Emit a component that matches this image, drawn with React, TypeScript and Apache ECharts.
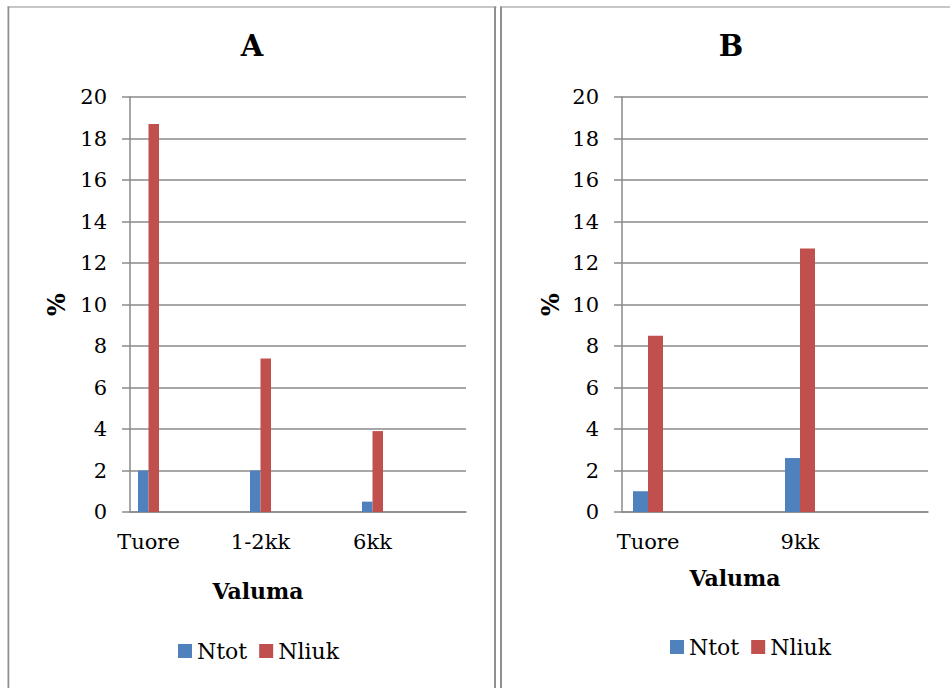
import React, { useEffect, useRef } from "react";
import * as echarts from "echarts";

// Panel A: nitrogen shares by storage time
const categoriesA = ["Tuore", "1-2kk", "6kk"];
const ntotA = [2.0, 2.0, 0.5];
const nliukA = [18.7, 7.4, 3.9];

// Panel B
const categoriesB = ["Tuore", "9kk"];
const ntotB = [1.0, 2.6];
const nliukB = [8.5, 12.7];

const seriesNames = ["Ntot", "Nliuk"];
const yMin = 0;
const yMax = 20;
const yStep = 2;

const FONT = "DejaVu Serif";
const GRAY = "#8a8a8a";
const BORDER = "#909090";
const BLUE = "#4F81BD";
const RED = "#C0504D";

function frameAxes(gridIndex: number, cats: string[], nameGap: number) {
  const x = {
    type: "category",
    gridIndex,
    data: cats,
    axisLine: { show: true, lineStyle: { color: GRAY, width: 1.5 } },
    axisTick: { show: false },
    axisLabel: { show: false },
    splitLine: { show: false },
  };
  const y = {
    type: "value",
    gridIndex,
    min: yMin,
    max: yMax,
    interval: yStep,
    name: "%",
    nameLocation: "middle",
    nameRotate: 90,
    nameGap,
    nameTextStyle: { fontFamily: FONT, fontSize: 24, fontWeight: "bold", color: "#000" },
    axisLine: { show: true, lineStyle: { color: GRAY, width: 1.5 } },
    axisTick: { show: true, length: 8, lineStyle: { color: GRAY, width: 1.5 } },
    axisLabel: { fontFamily: FONT, fontSize: 21, color: "#000", margin: 23 },
    splitLine: { show: true, lineStyle: { color: GRAY, width: 1.5 } },
  };
  return { x, y };
}

function barAxes(gridIndex: number, cats: string[]) {
  const x = {
    type: "category",
    gridIndex,
    data: cats,
    axisLine: { show: false },
    axisTick: { show: false },
    axisLabel: { fontFamily: FONT, fontSize: 21, color: "#000", margin: 19 },
    splitLine: { show: false },
  };
  const y = {
    type: "value",
    gridIndex,
    min: yMin,
    max: yMax,
    interval: yStep,
    show: false,
    splitLine: { show: false },
  };
  return { x, y };
}

function textEl(text: string, x: number, y: number, size: number) {
  return {
    type: "text",
    style: {
      text,
      x,
      y,
      textAlign: "center",
      textVerticalAlign: "middle",
      fontFamily: FONT,
      fontSize: size,
      fontWeight: "bold",
      fill: "#000",
    },
  };
}

function lineRect(x: number, y: number, w: number, h: number) {
  return { type: "rect", shape: { x, y, width: w, height: h }, style: { fill: BORDER } };
}

export default function App() {
  const ref = useRef<HTMLDivElement>(null);

  useEffect(() => {
    if (!ref.current) return;
    const chart = echarts.init(ref.current, undefined, { renderer: "svg" });

    const fA = frameAxes(0, categoriesA, 62);
    const bA = barAxes(1, categoriesA);
    const fB = frameAxes(2, categoriesB, 60);
    const bB = barAxes(3, categoriesB);

    const legendBase = {
      data: seriesNames,
      orient: "horizontal",
      icon: "rect",
      itemWidth: 14,
      itemHeight: 14,
      itemGap: 12,
      textStyle: { fontFamily: FONT, fontSize: 22, color: "#000" },
    };

    chart.setOption({
      animation: false,
      backgroundColor: "#fff",
      textStyle: { fontFamily: FONT },
      grid: [
        { left: 130, top: 97, width: 336, height: 415 },
        { left: 92.5, top: 97, width: 336, height: 415 },
        { left: 622, top: 97, width: 306, height: 415 },
        { left: 572, top: 97, width: 304, height: 415 },
      ],
      xAxis: [fA.x, bA.x, fB.x, bB.x],
      yAxis: [fA.y, bA.y, fB.y, bB.y],
      legend: [
        { ...legendBase, left: 173, top: 635 },
        { ...legendBase, left: 665, top: 631 },
      ],
      series: [
        { name: seriesNames[0], type: "bar", xAxisIndex: 1, yAxisIndex: 1, data: ntotA, barWidth: 10.5, barGap: "0%", itemStyle: { color: BLUE } },
        { name: seriesNames[1], type: "bar", xAxisIndex: 1, yAxisIndex: 1, data: nliukA, barWidth: 10.5, barGap: "0%", itemStyle: { color: RED } },
        { name: seriesNames[0], type: "bar", xAxisIndex: 3, yAxisIndex: 3, data: ntotB, barWidth: 15, barGap: "0%", itemStyle: { color: BLUE } },
        { name: seriesNames[1], type: "bar", xAxisIndex: 3, yAxisIndex: 3, data: nliukB, barWidth: 15, barGap: "0%", itemStyle: { color: RED } },
      ],
      graphic: [
        // table cell borders
        lineRect(7.5, 6.5, 489, 1),
        lineRect(7.5, 6.5, 1.8, 682),
        lineRect(494, 6.5, 2, 682),
        lineRect(500, 6.5, 2, 682),
        lineRect(500, 6.5, 450, 1),
        textEl("A", 252, 46, 29),
        textEl("B", 731, 46, 29),
        textEl("Valuma", 258, 591, 22),
        textEl("Valuma", 735, 578, 22),
      ],
    });

    return () => chart.dispose();
  }, []);

  return (
    <div
      ref={ref}
      style={{ position: "absolute", left: 0, top: 0, width: 950, height: 688, background: "#fff" }}
    />
  );
}
